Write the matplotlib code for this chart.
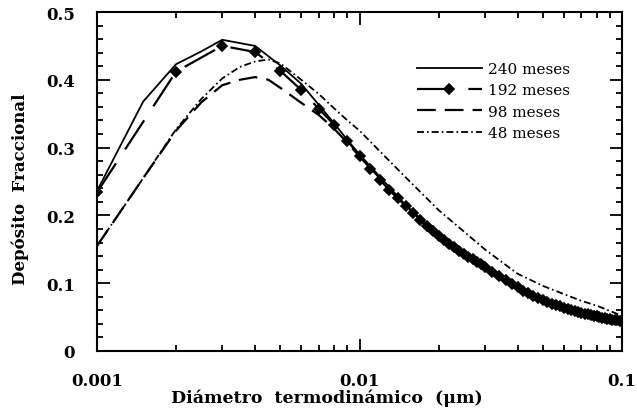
import numpy as np
import matplotlib
matplotlib.use("Agg")
import matplotlib.pyplot as plt
from matplotlib.ticker import FixedLocator, NullFormatter, LogLocator, MultipleLocator

plt.rcParams['lines.scale_dashes'] = False

# deposition fraction vs thermodynamic diameter (um)
d_240 = [0.001, 0.0015, 0.002, 0.0025, 0.003, 0.004, 0.005, 0.006, 0.007, 0.008, 0.009,
         0.01, 0.015, 0.02, 0.03, 0.04, 0.05, 0.06, 0.07, 0.08, 0.09, 0.1]
f_240 = [0.236, 0.368, 0.423, 0.442, 0.459, 0.450, 0.421, 0.394, 0.363, 0.336, 0.311,
         0.290, 0.215, 0.171, 0.125, 0.095, 0.076, 0.065, 0.057, 0.052, 0.048, 0.045]

d_192 = [0.001, 0.002, 0.003, 0.004, 0.005, 0.006, 0.007, 0.008, 0.009,
         0.010, 0.011, 0.012, 0.013, 0.014, 0.015, 0.016, 0.017, 0.018, 0.019,
         0.020, 0.021, 0.022, 0.023, 0.024, 0.025, 0.026, 0.027, 0.028, 0.029,
         0.030, 0.032, 0.034, 0.036, 0.038, 0.040, 0.042, 0.044, 0.046, 0.048,
         0.050, 0.052, 0.054, 0.056, 0.058, 0.060, 0.062, 0.064, 0.066, 0.068,
         0.070, 0.072, 0.074, 0.076, 0.078, 0.080, 0.082, 0.084, 0.086, 0.088,
         0.090, 0.092, 0.094, 0.096, 0.098, 0.100]
f_192 = [0.234, 0.412, 0.450, 0.441, 0.413, 0.385, 0.357, 0.334, 0.310,
         0.288, 0.269, 0.252, 0.237, 0.225, 0.214, 0.204, 0.193, 0.185, 0.177,
         0.170, 0.164, 0.158, 0.153, 0.148, 0.143, 0.139, 0.135, 0.131, 0.128,
         0.124, 0.117, 0.111, 0.105, 0.099, 0.094, 0.089, 0.085, 0.081, 0.078,
         0.075, 0.072, 0.070, 0.068, 0.066, 0.064, 0.062, 0.061, 0.059, 0.058,
         0.056, 0.055, 0.054, 0.053, 0.052, 0.051, 0.050, 0.049, 0.048, 0.047,
         0.047, 0.046, 0.045, 0.045, 0.044, 0.044]

d_98 = [0.001, 0.0015, 0.002, 0.0025, 0.003, 0.0035, 0.004, 0.0045, 0.005, 0.006, 0.007,
        0.008, 0.009, 0.01, 0.015, 0.02, 0.03, 0.04, 0.05, 0.06, 0.07, 0.08, 0.09, 0.1]
f_98 = [0.155, 0.255, 0.325, 0.367, 0.392, 0.400, 0.404, 0.400, 0.388, 0.366, 0.348,
        0.328, 0.307, 0.287, 0.214, 0.170, 0.124, 0.094, 0.075, 0.064, 0.056, 0.051, 0.047, 0.044]

d_48 = [0.001, 0.0015, 0.002, 0.0025, 0.003, 0.0035, 0.004, 0.0045, 0.005, 0.006, 0.007,
        0.008, 0.009, 0.01, 0.015, 0.02, 0.03, 0.04, 0.05, 0.06, 0.07, 0.08, 0.09, 0.1]
f_48 = [0.155, 0.255, 0.327, 0.372, 0.402, 0.419, 0.427, 0.430, 0.424, 0.400, 0.379,
        0.358, 0.340, 0.325, 0.256, 0.208, 0.150, 0.114, 0.096, 0.084, 0.074, 0.067, 0.059, 0.052]

labels = ["240 meses", "192 meses", "98 meses", "48 meses"]
yticks = [0, 0.1, 0.2, 0.3, 0.4, 0.5]
yticklabels = ["0", "0.1", "0.2", "0.3", "0.4", "0.5"]
xticks = [0.001, 0.01, 0.1]
xticklabels = ["0.001", "0.01", "0.1"]

fig = plt.figure(figsize=(6.37, 4.14), dpi=100)
ax = fig.add_axes([97/637, 62/414, 525/637, 339/414])

ax.plot(d_240, f_240, color="k", lw=1.3, label=labels[0])
ax.plot(d_192, f_192, color="k", lw=1.6, dashes=(25, 12), marker="D", ms=4.8,
        mfc="k", mec="k", mew=1.2, label=labels[1])
ax.plot(d_98, f_98, color="k", lw=1.6, dashes=(13.5, 6.5), label=labels[2])
ax.plot(d_48, f_48, color="k", lw=1.3, dashes=(5, 2.2, 1.2, 2.2), label=labels[3])

ax.set_xscale("log")
ax.set_xlim(0.001, 0.1)
ax.set_ylim(0, 0.5)

ax.xaxis.set_major_locator(FixedLocator(xticks))
ax.set_xticklabels(xticklabels)
ax.xaxis.set_minor_locator(LogLocator(base=10, subs=np.arange(2, 10)))
ax.xaxis.set_minor_formatter(NullFormatter())
ax.yaxis.set_major_locator(FixedLocator(yticks))
ax.set_yticklabels(yticklabels)
ax.yaxis.set_minor_locator(MultipleLocator(0.02))

tickfont = dict(family="DejaVu Serif", weight="bold", size=12)
for lab in ax.get_xticklabels() + ax.get_yticklabels():
    lab.set_fontproperties(matplotlib.font_manager.FontProperties(**tickfont))

ax.tick_params(which="both", direction="in", top=True, right=True, width=1.3, color="k")
ax.tick_params(which="major", length=9)
ax.tick_params(which="minor", length=4.5)
ax.tick_params(axis="x", which="major", pad=15)
ax.tick_params(axis="y", which="major", pad=16)
for s in ax.spines.values():
    s.set_linewidth(1.5)

fig.text(327/637, 1 - 398/414, "Diámetro  termodinámico  (μm)", ha="center", va="center",
         family="DejaVu Serif", weight="bold", size=12.5)
fig.text(20/637, 1 - 189/414, "Depósito  Fraccional", ha="center", va="center", rotation=90,
         family="DejaVu Serif", weight="bold", size=12)

ax.legend(loc="upper left", bbox_to_anchor=(417/637, 1 - 63/414), bbox_transform=fig.transFigure,
          frameon=False, borderaxespad=0, borderpad=0, handlelength=4.25, handletextpad=0.4,
          labelspacing=0.48, prop=dict(family="DejaVu Serif", size=11))

fig.savefig("out.png", dpi=100)
